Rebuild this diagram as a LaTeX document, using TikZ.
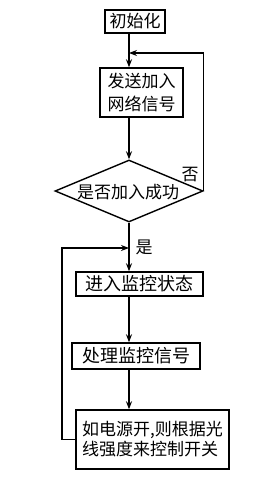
\documentclass[tikz,border=0pt]{standalone}
\usepackage{fontspec}
\setmainfont{Noto Sans CJK SC}
\usetikzlibrary{arrows.meta,shapes.geometric}
\begin{document}
\begin{tikzpicture}[x=1pt,y=-1pt,
  box/.style={draw,line width=1.4pt,inner sep=0pt,font=\fontsize{17}{23}\selectfont,align=center},
  dia/.style={draw,diamond,line width=1.4pt,inner sep=0pt,minimum width=148pt,minimum height=62pt},
  arr/.style={line width=1.3pt,-{Stealth[length=8pt,width=6pt]}},
  lbl/.style={font=\fontsize{17}{20}\selectfont,inner sep=0pt}]
\useasboundingbox (0,0) rectangle (272,484);
\fill[white] (0,0) rectangle (272,484);
\node[box,minimum width=60pt,minimum height=23pt] (init) at (135,21.5) {初始化};
\node[box,minimum width=83pt,minimum height=49pt] (send) at (141.5,92.5) {发送加入\\网络信号};
\node[dia] (dia) at (129,191) {};
\node[lbl] (diatext) at (128,192) {是否加入成功};
\node[box,minimum width=127pt,minimum height=24pt,font=\fontsize{18}{22}\selectfont] (mon) at (139.5,284) {进入监控状态};
\node[box,minimum width=128pt,minimum height=26pt,font=\fontsize{18}{22}\selectfont] (proc) at (136,356) {处理监控信号};
\node[box,minimum width=153pt,minimum height=59pt,align=left,font=\fontsize{17}{20}\selectfont] (ctrl) at (152.5,439.5) {如电源开,则根据光\\线强度来控制开关};
\node[lbl] (no) at (190,175) {否};
\node[lbl] (yes) at (144,247) {是};
\coordinate (j1) at (129,53);
\coordinate (j2) at (129,248);
\coordinate (l1) at (62,248);
\draw[arr] (init.south -| dia) -- (send.north -| dia);
\draw[arr] (send.south -| dia) -- (dia.north);
\draw[arr] (dia.east) -- (dia.east |- j1) -- (j1);
\draw[arr] (dia.south) -- (mon.north -| dia);
\draw[arr] (ctrl.west) -- (ctrl.west -| l1) -- (l1) -- (j2);
\draw[arr] (mon.south -| dia) -- (proc.north -| dia);
\draw[arr] (proc.south -| dia) -- (ctrl.north -| dia);
\end{tikzpicture}
\end{document}
